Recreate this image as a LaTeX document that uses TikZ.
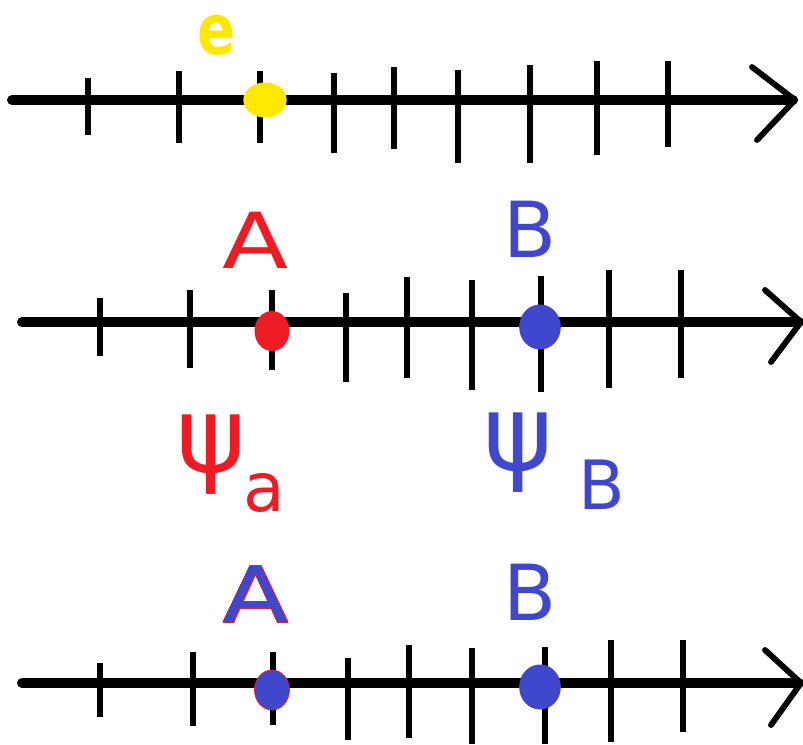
\documentclass[tikz,border=0pt]{standalone}
\usepackage{fontspec}
\setsansfont{DejaVu Sans}
\usepackage[copies]{contour}
\usetikzlibrary{shapes.geometric}
\definecolor{PaintYellow}{RGB}{255,232,0}
\definecolor{PaintRed}{RGB}{237,28,36}
\definecolor{PaintBlue}{RGB}{63,72,204}
\contourlength{0.6pt}
% psi con subindice grande
\newcommand{\wavefn}[2]{{\fontsize{90}{90}\selectfont ψ}\kern#1\raisebox{-34pt}{\fontsize{58}{58}\selectfont #2}}

\begin{document}
\begin{tikzpicture}[
    x=0.03cm, y=-0.03cm,
    axisline/.style={line width=8.5pt, line cap=round},
    tickmark/.style={line width=4.3pt},
    tiphead/.style={line width=5pt, line cap=round, line join=round},
    blob/.style={ellipse, inner sep=0pt, minimum width=1.05cm, minimum height=1.2cm},
    letter/.style={font=\sffamily\fontsize{66}{66}\selectfont, inner sep=0pt},
    wave/.style={font=\sffamily, inner sep=0pt, anchor=base west},
]
\useasboundingbox (0,0) rectangle (803,744);

% eje superior
\draw[axisline] (12,100) -- (793,100);
\draw[tiphead] (752,67) -- (795,100) -- (757,140);
\foreach \x/\a/\b in {88/78/135, 179/71/143, 260/71/143, 334/73/153, 394/67/149,
                      458/70/163, 530/65/163, 597/61/155, 668/61/147}
    \draw[tickmark] (\x,\a) -- (\x,\b);

\node[blob, fill=PaintYellow, minimum width=1.3cm, minimum height=1.05cm] (edot) at (265,100) {};
\node[letter, font=\sffamily\bfseries\fontsize{60}{60}\selectfont, text=PaintYellow] (elab) at (217,35)
    {\scalebox{0.8}[1]{e}};

% eje medio
\draw[axisline] (22,322) -- (799,322);
\draw[tiphead] (765,290) -- (801,322) -- (771,362);
\foreach \x/\a/\b in {100/298/356, 190/290/368, 272/290/370, 346/293/382, 407/277/378,
                      472/280/390, 541/276/392, 609/270/388, 681/270/378}
    \draw[tickmark] (\x,\a) -- (\x,\b);

\node[blob, fill=PaintRed] (adot) at (272,331) {};
\node[blob, fill=PaintBlue, minimum width=1.25cm, minimum height=1.35cm] (bdot) at (540,327) {};
\node[letter, text=PaintRed] (alab) at (256,240) {\scalebox{1.25}[1]{A}};
\node[letter, text=PaintBlue] (blab) at (530,229) {B};

% funciones de onda
\node[wave, text=PaintRed] (psia) at (176,472) {\wavefn{-2pt}{a}};
\node[wave, text=PaintBlue] (psib) at (483,470) {\wavefn{22pt}{B}};

% eje inferior
\draw[axisline] (22,683) -- (799,683);
\draw[tiphead] (765,650) -- (801,683) -- (771,725);
\foreach \x/\a/\b in {100/663/717, 193/652/726, 273/652/725, 348/658/740, 409/645/738,
                      472/648/744, 545/647/744, 611/640/742, 683/640/732}
    \draw[tickmark] (\x,\a) -- (\x,\b);

\node[blob, fill=PaintBlue, draw=PaintRed, line width=0.6pt] (adot2) at (272,690) {};
\node[blob, fill=PaintBlue, minimum width=1.25cm, minimum height=1.35cm] (bdot2) at (540,687) {};
\node[letter, text=PaintBlue] (alab2) at (256,595) {\scalebox{1.25}[1]{\contour{PaintRed}{A}}};
\node[letter, text=PaintBlue] (blab2) at (530,592) {B};

\end{tikzpicture}
\end{document}
